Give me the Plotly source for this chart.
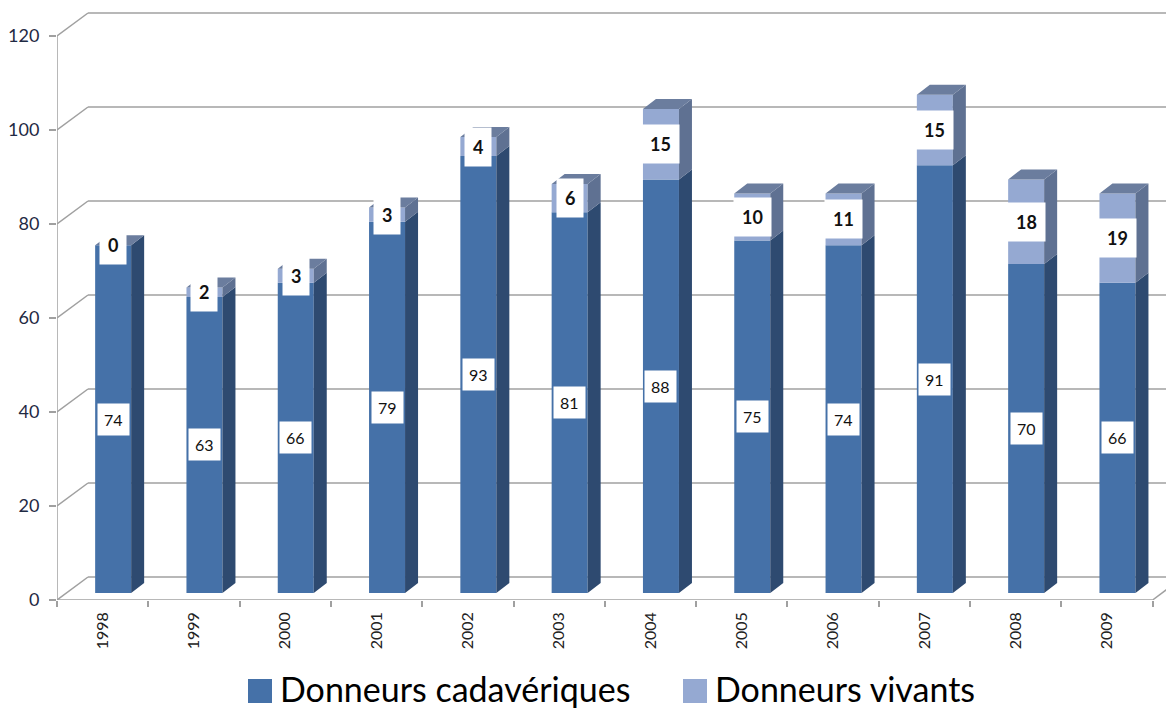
import plotly.graph_objects as go

# donneurs par annee
years = ["1998", "1999", "2000", "2001", "2002", "2003",
         "2004", "2005", "2006", "2007", "2008", "2009"]
cadaveriques = [74, 63, 66, 79, 93, 81, 88, 75, 74, 91, 70, 66]
vivants = [0, 2, 3, 3, 4, 6, 15, 10, 11, 15, 18, 19]
y_ticks = [0, 20, 40, 60, 80, 100, 120]

# page has an 8px body margin, the figure is sized to fit inside it
PAGE_OFF = 8
PLOT_L, PLOT_B = 57, 600      # page pixels of the front axes corner
PLOT_W = 1174 - PLOT_L
PLOT_H = PLOT_B - PAGE_OFF

# fake 3d geometry, in axis units
PX_CAT = 91.3
PX_UNIT = 4.7
WALL_DX = 31 / PX_CAT
WALL_DY = 23 / PX_UNIT
BAR_DX = 10.5 / PX_CAT
BAR_DY = 7 / PX_UNIT
DEPTH_DX = 13 / PX_CAT
DEPTH_DY = 10 / PX_UNIT
BAR_W = 36 / PX_CAT

X_MAX = -0.5 + PLOT_W / PX_CAT
Y_MAX = PLOT_H / PX_UNIT

DARK = "#4571a8"
DARK_SIDE = "#2e4a70"
LIGHT = "#95a9d2"
LIGHT_SIDE = "#5f7192"
TOP = "#6b7d9e"
GRID = "#a0a0a0"


def side_faces(bottoms, heights):
    xs, ys = [], []
    for i, (b, h) in enumerate(zip(bottoms, heights)):
        x1 = i + BAR_DX + BAR_W / 2
        y0 = b + BAR_DY
        y1 = b + h + BAR_DY
        xs += [x1, x1 + DEPTH_DX, x1 + DEPTH_DX, x1, x1, None]
        ys += [y0, y0 + DEPTH_DY, y1 + DEPTH_DY, y1, y0, None]
    return xs, ys


def top_faces(tops):
    xs, ys = [], []
    for i, t in enumerate(tops):
        x0 = i + BAR_DX - BAR_W / 2
        x1 = i + BAR_DX + BAR_W / 2
        y = t + BAR_DY
        xs += [x0, x0 + DEPTH_DX, x1 + DEPTH_DX, x1, x0, None]
        ys += [y, y + DEPTH_DY, y + DEPTH_DY, y, y, None]
    return xs, ys


def paper_x(px):
    return (px - PLOT_L) / PLOT_W


def paper_y(py):
    return (PLOT_B - py) / PLOT_H


xpos = [i + BAR_DX for i in range(len(years))]
totals = [c + v for c, v in zip(cadaveriques, vivants)]

fig = go.Figure()
fig.add_trace(go.Bar(x=xpos, y=cadaveriques, base=[BAR_DY] * len(years),
                     width=BAR_W, marker=dict(color=DARK, line=dict(width=0)),
                     name="Donneurs cadavériques", hoverinfo="skip"))
fig.add_trace(go.Bar(x=xpos, y=vivants, base=[c + BAR_DY for c in cadaveriques],
                     width=BAR_W, marker=dict(color=LIGHT, line=dict(width=0)),
                     name="Donneurs vivants", hoverinfo="skip"))

sx, sy = side_faces([0] * len(years), cadaveriques)
fig.add_trace(go.Scatter(x=sx, y=sy, fill="toself", fillcolor=DARK_SIDE,
                         mode="none", hoverinfo="skip"))
sx, sy = side_faces(cadaveriques, vivants)
fig.add_trace(go.Scatter(x=sx, y=sy, fill="toself", fillcolor=LIGHT_SIDE,
                         mode="none", hoverinfo="skip"))
tx, ty = top_faces(totals)
fig.add_trace(go.Scatter(x=tx, y=ty, fill="toself", fillcolor=TOP,
                         mode="none", hoverinfo="skip"))

# walls and gridlines
line = dict(color=GRID, width=1.5)
for v in y_ticks:
    fig.add_shape(type="line", x0=-0.5, y0=v, x1=-0.5 + WALL_DX, y1=v + WALL_DY,
                  line=line, layer="below")
    fig.add_shape(type="line", x0=-0.5 + WALL_DX, y0=v + WALL_DY, x1=X_MAX + 1,
                  y1=v + WALL_DY, line=line, layer="below")
fig.add_shape(type="line", x0=-0.5, y0=0, x1=-0.5, y1=y_ticks[-1], line=line, layer="below")
fig.add_shape(type="line", x0=-0.5, y0=0, x1=len(years) - 0.5, y1=0, line=line, layer="below")
fig.add_shape(type="line", x0=len(years) - 0.5, y0=0, x1=len(years) - 0.5 + WALL_DX,
              y1=WALL_DY, line=line, layer="below")

# value labels
for i in range(len(years)):
    fig.add_annotation(x=xpos[i], y=BAR_DY + cadaveriques[i] / 2,
                       text=str(cadaveriques[i]), showarrow=False,
                       font=dict(size=16, color="#111111"),
                       bgcolor="white", borderpad=6)
    fig.add_annotation(x=xpos[i], y=BAR_DY + cadaveriques[i] + vivants[i] / 2,
                       text="<b>%d</b>" % vivants[i], showarrow=False,
                       font=dict(size=18, color="#111111"),
                       bgcolor="white", borderpad=8)

# legend drawn by hand, plotly's bar swatches are too small
legend = [("Donneurs cadavériques", DARK, 248), ("Donneurs vivants", LIGHT, 683)]
for label, color, px in legend:
    fig.add_shape(type="rect", xref="paper", yref="paper",
                  x0=paper_x(px), x1=paper_x(px + 24),
                  y0=paper_y(679), y1=paper_y(703),
                  fillcolor=color, line=dict(width=0))
    fig.add_annotation(xref="paper", yref="paper", x=paper_x(px + 30),
                       y=paper_y(689), text=label, showarrow=False,
                       xanchor="left", yanchor="middle",
                       font=dict(size=34, color="#000000"))

fig.update_layout(
    width=1174 - PAGE_OFF, height=708 - PAGE_OFF,
    margin=dict(l=PLOT_L - PAGE_OFF, r=0, t=0, b=708 - PAGE_OFF - PLOT_H),
    plot_bgcolor="white", paper_bgcolor="white",
    barmode="overlay", showlegend=False,
    font=dict(family="Lato, Noto Sans, sans-serif"),
    xaxis=dict(range=[-0.5, X_MAX], tickmode="array",
               tickvals=list(range(len(years))), ticktext=years,
               tickangle=-90, ticks="", showgrid=False, zeroline=False,
               showline=False, ticklabelstandoff=8,
               tickfont=dict(size=16, color="#222222"),
               minor=dict(tickvals=[i - 0.5 for i in range(len(years) + 1)],
                          ticks="outside", ticklen=6, tickcolor=GRID,
                          tickwidth=1.5, showgrid=False)),
    yaxis=dict(range=[0, Y_MAX], tickmode="array", tickvals=y_ticks,
               ticks="outside", ticklen=7, tickcolor=GRID, tickwidth=1.5,
               showgrid=False, zeroline=False, showline=False,
               ticklabelstandoff=6,
               tickfont=dict(size=18, color="#1f2a44")),
)

fig.write_html("out.html")
